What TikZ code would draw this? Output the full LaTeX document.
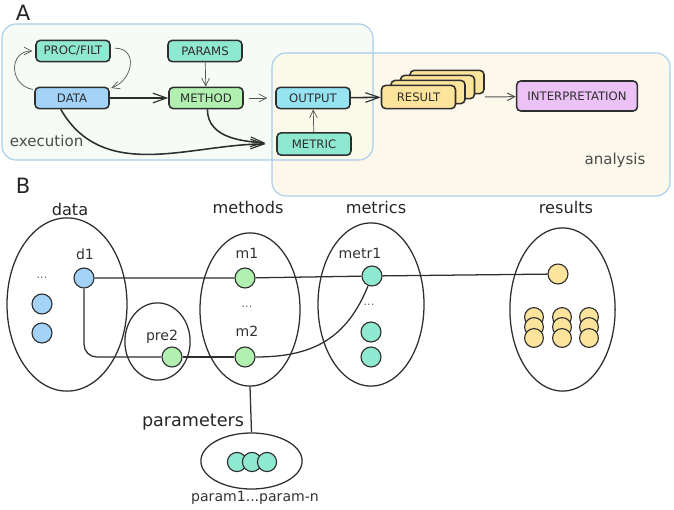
\documentclass[tikz,border=0pt]{standalone}
\usepackage{fontspec}
\setmainfont{DejaVu Sans}
\usepackage{tikz}
\usetikzlibrary{arrows.meta,positioning,shapes.geometric}
\definecolor{ink}{HTML}{2E2E2E}
\definecolor{wire}{HTML}{555555}
\definecolor{mint}{HTML}{8FE8D0}
\definecolor{sky}{HTML}{A3D3F8}
\definecolor{leaf}{HTML}{B2F0B2}
\definecolor{aqua}{HTML}{96E3F2}
\definecolor{sand}{HTML}{FCE49C}
\definecolor{lilac}{HTML}{EBC1F6}
\definecolor{execfill}{HTML}{F6FBF5}
\definecolor{anafill}{HTML}{FCF9EA}
\definecolor{zoneline}{HTML}{A8CDEB}
\tikzset{
  card/.style={
    rounded corners=3pt,
    draw=ink,
    line width=1.1pt,
    align=center,
    font=\fontsize{8.3}{9}\selectfont,
    text=ink,
    inner sep=1pt,
    minimum width=1.85cm,
    minimum height=0.53cm
  },
  zone/.style={rounded corners=10pt, draw=zoneline, line width=0.8pt},
  zoneLabel/.style={font=\fontsize{10.7}{12}\selectfont, text=black!70},
  panelTag/.style={font=\fontsize{15}{16}\selectfont, text=black!85},
  flow/.style={line width=1.1pt, draw=ink, -{Straight Barb[length=3.4mm,width=2.4mm,line width=0.8pt]}},
  thinflow/.style={line width=0.5pt, draw=wire, -{Straight Barb[length=1.9mm,width=1.9mm]}},
  setRing/.style={ellipse, draw=ink, line width=0.9pt, inner sep=0pt},
  setTitle/.style={font=\fontsize{11.5}{13}\selectfont, text=black!85},
  tagText/.style={font=\fontsize{10}{12}\selectfont, text=black!80},
  gap/.style={font=\fontsize{8}{9}\selectfont, text=black!60},
  blob/.style={circle, draw=ink, line width=0.8pt, minimum size=0.5cm, inner sep=0pt},
  link/.style={line width=0.9pt, draw=ink}
}

\begin{document}
\begin{tikzpicture}[x=0.025cm,y=-0.025cm]
\path[use as bounding box] (0,0) rectangle (674,510);

% ---- panel A
\node[panelTag] (tagA) at (23,13) {A};
\fill[execfill, rounded corners=10pt] (2,24) rectangle (373,160);
\fill[anafill, opacity=0.92, rounded corners=10pt] (272,53) rectangle (670,196);
\draw[zone] (2,24) rectangle (373,160);
\draw[zone] (272,53) rectangle (670,196);
\node[zoneLabel, anchor=west] (execlabel) at (5,141) {execution};
\node[zoneLabel] (analabel) at (615,160) {analysis};

\node[card, fill=mint] (proc) at (73,51) {PROC/FILT};
\node[card, fill=mint] (params) at (205,51) {PARAMS};
\node[card, fill=sky] (data) at (72,98) {DATA};
\node[card, fill=leaf] (method) at (206,98) {METHOD};
\node[card, fill=aqua] (output) at (313,98) {OUTPUT};
\node[card, fill=mint, minimum height=0.56cm] (metric) at (314,144) {METRIC};

\node[card, fill=sand, minimum height=0.58cm] (res3) at (447,82) {};
\node[card, fill=sand, minimum height=0.58cm] (res2) at (437.5,87) {};
\node[card, fill=sand, minimum height=0.58cm] (res1) at (428,92) {};
\node[card, fill=sand, minimum height=0.58cm] (result) at (418.5,97) {RESULT};
\node[card, fill=lilac, minimum width=3.02cm, minimum height=0.75cm] (interp) at (577,96) {INTERPRETATION};

\draw[thinflow] ([xshift=-1pt,yshift=-2pt]data.north west) to[out=170,in=180,looseness=1.6] ([xshift=-2pt]proc.west);
\draw[thinflow] ([xshift=3pt,yshift=2pt]proc.east) to[out=0,in=20,looseness=1.5] ([xshift=1pt,yshift=-1pt]data.north east);
\draw[thinflow] (params) -- (method);
\draw[flow] (data) -- (method);
\draw[thinflow, shorten <=3.5pt, shorten >=5.5pt] (method) -- (output);
\draw[flow, shorten >=7.5pt] ([xshift=-8pt]data.south) to[out=-60,in=180] (metric.west);
\draw[flow, shorten >=7.5pt] ([xshift=1pt]method.south) to[out=-90,in=175] (metric.west);
\draw[thinflow] (metric) -- (output);
\draw[flow] (output) -- (result);
\draw[thinflow, line width=0.7pt] (res3.east |- result.east) -- (interp);

% ---- panel B
\node[panelTag] (tagB) at (23,186) {B};
\node[setTitle] (dataTtl) at (70,209) {data};
\node[setTitle] (methTtl) at (248,207) {methods};
\node[setTitle] (metrTtl) at (376,207) {metrics};
\node[setTitle] (resTtl) at (566,207) {results};

\node[setRing, minimum width=3cm, minimum height=4.33cm] (dataSet) at (67,304.5) {};
\node[setRing, minimum width=1.63cm, minimum height=1.93cm] (preSet) at (157.5,341.5) {};
\node[setRing, minimum width=2.5cm, minimum height=3.83cm] (methSet) at (250,309.5) {};
\node[setRing, minimum width=2.65cm, minimum height=4.08cm] (metrSet) at (371,304.5) {};
\node[setRing, minimum width=2.63cm, minimum height=4.08cm] (resSet) at (562.5,309.5) {};
\node[setRing, minimum width=2.53cm, minimum height=1.4cm] (parSet) at (251.5,461) {};

\node[tagText] (d1lbl) at (85,254) {d1};
\node[gap] (dataGap) at (42,278) {...};
\node[blob, fill=sky] (d1) at (84,278) {};
\node[blob, fill=sky] (d2) at (42,304) {};
\node[blob, fill=sky] (d3) at (42,333) {};

\node[tagText] (pre2lbl) at (162,337) {pre2};
\node[blob, fill=leaf] (pre2) at (172,357) {};

\node[tagText] (m1lbl) at (247,253) {m1};
\node[gap] (methGap) at (247,307) {...};
\node[tagText] (m2lbl) at (247,331) {m2};
\node[blob, fill=leaf] (m1) at (245,278) {};
\node[blob, fill=leaf] (m2) at (245,357) {};

\node[tagText] (metr1lbl) at (360,253) {metr1};
\node[gap] (metrGap) at (369,305) {...};
\node[blob, fill=mint] (metr1) at (372,276) {};
\node[blob, fill=mint] (metr2) at (371,332) {};
\node[blob, fill=mint] (metr3) at (371,357) {};

\node[blob, fill=sand] (res) at (558,274) {};
\foreach \cx in {534,562,589}{
  \foreach \cy in {317,327,338}{
    \node[blob, fill=sand, minimum size=0.47cm] (r\cx-\cy) at (\cx,\cy) {};
  }
}

\node[setTitle, font=\fontsize{12.5}{14}\selectfont] (parTtl) at (193,422) {parameters};
\node[blob, fill=mint, minimum size=0.48cm] (p1) at (237,462) {};
\node[blob, fill=mint, minimum size=0.48cm] (p2) at (252,462) {};
\node[blob, fill=mint, minimum size=0.48cm] (p3) at (267,462) {};
\node[tagText] (parlbl) at (255,498) {param1...param-n};

\draw[link] (d1) -- (m1) -- (metr1) -- (res);
\draw[link, rounded corners=9pt] (d1) |- (pre2);
\draw[link] (pre2) -- (m2);
\draw[link] (m2) to[out=0,in=-112,looseness=1.1] (metr1);
\draw[link] (methSet.south) -- (parSet.north);
\end{tikzpicture}
\end{document}
